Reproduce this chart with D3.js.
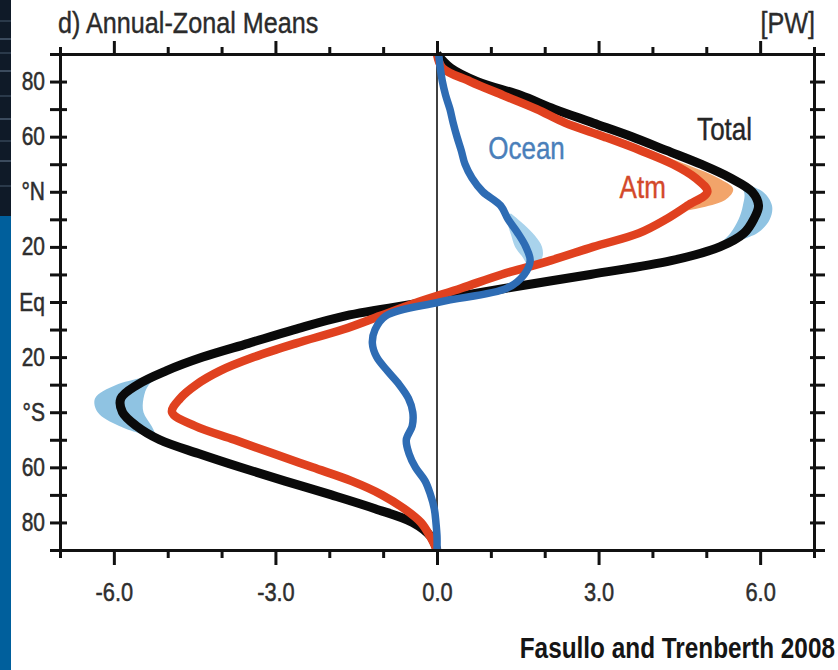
<!DOCTYPE html>
<html>
<head>
<meta charset="utf-8">
<script src="https://cdn.jsdelivr.net/npm/d3@7"></script>
<style>
body { margin: 0; background: #fff; }
svg text { font-family: "Liberation Sans", Arial, Helvetica, sans-serif; }
</style>
</head>
<body>
<div id="chart"></div>
<script>
// latitude grid (deg, + = north)
var lats = [90, 85, 80, 75, 70, 65, 60, 55, 50, 45, 40, 35, 30, 25, 20, 15, 10, 5, 0,
  -5, -10, -15, -20, -25, -30, -35, -40, -45, -50, -55, -60, -65, -70, -75, -80, -85, -90];

// northward energy transport [PW]
var totalPW = [0, 0.25, 0.75, 1.55, 2.18, 2.9, 3.62, 4.26, 4.9, 5.45, 5.85, 5.97, 5.88, 5.7, 5.25, 4.35, 2.85, 1.28, -0.2,
  -1.7, -2.65, -3.5, -4.35, -5.03, -5.56, -5.87, -5.84, -5.58, -5.15, -4.43, -3.65, -2.82, -1.96, -1.15, -0.45, -0.12, 0];
var atmPW = [0, 0.1, 0.62, 1.23, 1.85, 2.38, 3.1, 3.78, 4.38, 4.8, 5.02, 4.65, 4.25, 3.75, 2.9, 2.1, 1.2, 0.45, -0.35,
  -1.05, -1.75, -2.62, -3.4, -4.03, -4.47, -4.77, -4.92, -4.49, -3.76, -3.04, -2.31, -1.58, -1.02, -0.61, -0.3, -0.13, 0];
var oceanPW = [0.03, 0.06, 0.1, 0.16, 0.24, 0.3, 0.37, 0.45, 0.52, 0.65, 0.85, 1.18, 1.32, 1.5, 1.65, 1.73, 1.62, 1.3, 0.05,
  -0.95, -1.15, -1.2, -1.12, -0.92, -0.7, -0.53, -0.45, -0.46, -0.57, -0.52, -0.4, -0.22, -0.12, -0.05, -0.02, 0, 0];

// spread bands [lat, low, high]
var totalBandNorth = [[44, 5.5, 5.55], [40, 5.7, 6.05], [35, 5.68, 6.22], [30, 5.6, 6.18], [25, 5.45, 5.95], [21, 5.25, 5.4]];
var totalBandSouth = [[-26, -5.1, -5.05], [-30, -5.95, -5.35], [-35, -6.35, -5.45], [-40, -6.3, -5.45], [-45, -5.9, -5.3], [-49, -5.3, -5.2]];
var atmBandNorth = [[56, 3.7, 3.8], [50, 4.38, 4.62], [45, 4.8, 5.22], [41, 5.0, 5.5], [37, 4.8, 5.35], [33, 4.5, 4.6]];
var oceanBandNorth = [[32, 1.32, 1.38], [28, 1.32, 1.62], [24, 1.38, 1.82], [20, 1.45, 1.95], [16, 1.6, 1.95], [13, 1.68, 1.75]];

// axis ticks
var xTicks = [-7, -6, -5, -4, -3, -2, -1, 0, 1, 2, 3, 4, 5, 6, 7];
var xMajor = [-6, -3, 0, 3, 6];
var xLabels = ["-6.0", "-3.0", "0.0", "3.0", "6.0"];
var yTicks = [90, 80, 70, 60, 50, 40, 30, 20, 10, 0, -10, -20, -30, -40, -50, -60, -70, -80, -90];
var yMajor = [80, 60, 40, 20, 0, -20, -40, -60, -80];
var yLabels = ["80", "60", "°N", "20", "Eq", "20", "°S", "60", "80"];

// in-plot labels: text, value, lat
var seriesNames = ["Ocean", "Atm", "Total"];
var nameVal = [0.95, 3.39, 4.83];
var nameLat = [51.9, 37.7, 58.8];
var nameColor = ["#4a7fba", "#d3492a", "#262626"];

var svgWidth = 838, svgHeight = 670;
var squeeze = 0.84; // the original lettering is horizontally narrow

var svg = d3.select("#chart").append("svg")
  .attr("width", svgWidth)
  .attr("height", svgHeight);

// slide background strip on the left
svg.append("rect").attr("x", 0).attr("y", 0).attr("width", 11).attr("height", 216).attr("fill", "#0f1a28");
svg.append("rect").attr("x", 0).attr("y", 216).attr("width", 11).attr("height", 454).attr("fill", "#005f9c");
[20, 38, 52, 70, 95, 118, 140, 160, 185].forEach(function(yy, i) {
  svg.append("rect").attr("x", 0).attr("y", yy).attr("width", 11).attr("height", 2)
    .attr("fill", i % 2 ? "#3b4b5e" : "#2a394a");
});

var x = d3.scaleLinear().domain([-7, 7]).range([60, 814]);
var y = d3.scaleLinear().domain([-90, 90]).range([550, 54]);

var g = svg.append("g");

// bands
var band = d3.area()
  .y(d => y(d[0]))
  .x0(d => x(d[1]))
  .x1(d => x(d[2]))
  .curve(d3.curveCatmullRom);

g.append("path").datum(totalBandNorth).attr("d", band).attr("fill", "#8fc3e2");
g.append("path").datum(totalBandSouth).attr("d", band).attr("fill", "#8fc3e2");
g.append("path").datum(atmBandNorth).attr("d", band).attr("fill", "#f2a46a");
g.append("path").datum(oceanBandNorth).attr("d", band).attr("fill", "#a9d3ec");

// zero line
g.append("line")
  .attr("x1", x(0)).attr("x2", x(0))
  .attr("y1", y(90)).attr("y2", y(-90))
  .attr("stroke", "#111").attr("stroke-width", 1.6);

var line = d3.line()
  .x(d => x(d[1]))
  .y(d => y(d[0]))
  .curve(d3.curveCatmullRom.alpha(0.5));

g.append("path").datum(d3.zip(lats, totalPW)).attr("d", line)
  .attr("fill", "none").attr("stroke", "#0a0a0a").attr("stroke-width", 9).attr("stroke-linejoin", "round");
g.append("path").datum(d3.zip(lats, atmPW)).attr("d", line)
  .attr("fill", "none").attr("stroke", "#e0411f").attr("stroke-width", 8.5).attr("stroke-linejoin", "round");
g.append("path").datum(d3.zip(lats, oceanPW)).attr("d", line)
  .attr("fill", "none").attr("stroke", "#2e6cb4").attr("stroke-width", 7.5).attr("stroke-linejoin", "round");

// series names
seriesNames.forEach(function(n, i) {
  svg.append("text")
    .attr("x", x(nameVal[i]) / squeeze)
    .attr("y", y(nameLat[i]))
    .attr("transform", "scale(" + squeeze + ",1)")
    .attr("font-size", 31)
    .attr("fill", nameColor[i])
    .attr("stroke", nameColor[i]).attr("stroke-width", 0.4)
    .text(n);
});

// axes
var bottomAxis = d3.axisBottom(x).tickValues(xTicks).tickSize(8)
  .tickFormat(d => xMajor.indexOf(d) >= 0 ? xLabels[xMajor.indexOf(d)] : "");
var topAxis = d3.axisTop(x).tickValues(xTicks).tickSize(7).tickFormat("");
var leftAxis = d3.axisLeft(y).tickValues(yTicks).tickSize(10)
  .tickFormat(d => yMajor.indexOf(d) >= 0 ? yLabels[yMajor.indexOf(d)] : "");
var rightAxis = d3.axisRight(y).tickValues(yTicks).tickSize(11).tickFormat("");

var gb = svg.append("g").attr("transform", `translate(0, ${y(-90)})`).call(bottomAxis);
var gt = svg.append("g").attr("transform", `translate(0, ${y(90)})`).call(topAxis);
var gl = svg.append("g").attr("transform", `translate(${x(-7)}, 0)`).call(leftAxis);
var gr = svg.append("g").attr("transform", `translate(${x(7)}, 0)`).call(rightAxis);

[gb, gt, gl, gr].forEach(function(a) {
  a.select(".domain").attr("stroke", "#111").attr("stroke-width", 3);
  a.selectAll(".tick line").attr("stroke", "#111").attr("stroke-width", 3);
});

gb.selectAll(".tick line").attr("y2", d => xMajor.indexOf(d) >= 0 ? 15 : 8);
gt.selectAll(".tick line").attr("y2", d => xMajor.indexOf(d) >= 0 ? -13 : -7);
gl.selectAll(".tick line").attr("x1", 7);
gr.selectAll(".tick line").attr("x1", -4);

gb.selectAll(".tick text")
  .attr("y", 33).attr("dy", "0.71em")
  .attr("font-size", 26).attr("fill", "#2e2e2e")
  .attr("stroke", "#2e2e2e").attr("stroke-width", 0.5)
  .attr("transform", "scale(" + squeeze + ",1)");
gl.selectAll(".tick text")
  .attr("x", -15 / squeeze)
  .attr("font-size", 25).attr("fill", "#2e2e2e")
  .attr("stroke", "#2e2e2e").attr("stroke-width", 0.5)
  .attr("transform", "scale(" + squeeze + ",1)");

// titles
svg.append("text")
  .attr("x", 58 / squeeze).attr("y", 33)
  .attr("transform", "scale(" + squeeze + ",1)")
  .attr("font-size", 30).attr("fill", "#2b2b2b")
  .attr("stroke", "#2b2b2b").attr("stroke-width", 0.4)
  .text("d) Annual-Zonal Means");

svg.append("text")
  .attr("x", 815 / squeeze).attr("y", 33)
  .attr("transform", "scale(" + squeeze + ",1)")
  .attr("text-anchor", "end")
  .attr("font-size", 30).attr("fill", "#2b2b2b")
  .attr("stroke", "#2b2b2b").attr("stroke-width", 0.4)
  .text("[PW]");

svg.append("text")
  .attr("x", 835 / squeeze).attr("y", 658)
  .attr("transform", "scale(" + squeeze + ",1)")
  .attr("text-anchor", "end")
  .attr("font-size", 29).attr("font-weight", "bold").attr("fill", "#151515")
  .text("Fasullo and Trenberth 2008");
</script>
</body>
</html>
